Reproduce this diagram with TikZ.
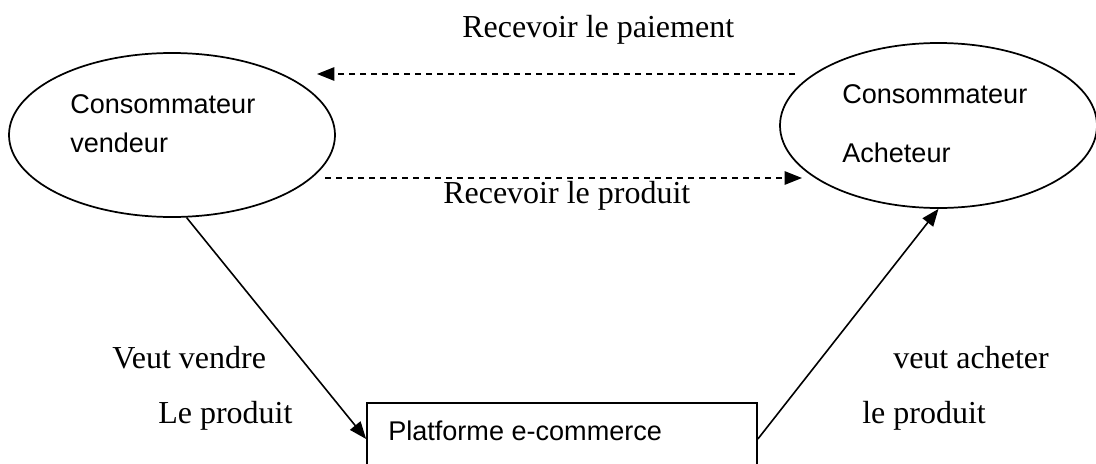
\documentclass[tikz,border=0pt]{standalone}
\usepackage{fontspec}
\setmainfont{Liberation Serif}
\newfontfamily\arialfont{Liberation Sans}
\usetikzlibrary{shapes.geometric, arrows.meta}

\begin{document}
\begin{tikzpicture}[x=0.75pt, y=-0.75pt,
  every node/.style={inner sep=0pt, anchor=base west},
  actor/.style={ellipse, draw, line width=1.3pt, anchor=center},
  platbox/.style={rectangle, draw, line width=1.3pt, anchor=center},
  serif/.style={font=\fontsize{24}{28}\selectfont},
  sans/.style={font=\arialfont\fontsize{20.3}{24}\selectfont},
  flow/.style={-{Triangle[length=13pt,width=10pt]}, line width=1.2pt},
  back/.style={flow, dash pattern=on 4.5pt off 3.75pt}]
\clip (0,0) rectangle (1096,464);

% the two consumers and the platform
\node(vendeur)[actor, minimum width=244.5pt, minimum height=123pt] at (172,135) {};
\node(acheteur)[actor, minimum width=237.75pt, minimum height=123.75pt] at (938.5,125.5) {};
\node(platform)[platbox, minimum width=292.5pt, minimum height=54pt] at (562,439) {};

\node(v1)[sans] at (70,113) {Consommateur};
\node(v2)[sans] at (70,152) {vendeur};
\node(a1)[sans] at (842,103) {Consommateur};
\node(a2)[sans] at (842,162) {Acheteur};
\node(p1)[sans] at (388,440) {Platforme e-commerce};

% dashed exchanges between the consumers
\coordinate (payfrom) at (795,74);
\coordinate (payto) at (317,74);
\coordinate (prodfrom) at (325,178);
\coordinate (prodto) at (802,178);
\draw[back] (payfrom) -- (payto);
\draw[back] (prodfrom) -- (prodto);

\node(paiement)[serif] at (462,37) {Recevoir le paiement};
\node(produit)[serif] at (443,203) {Recevoir le produit};

\draw[flow] (vendeur.-80) -- (platform.west);
\draw[flow] (platform.east) -- (acheteur.south);

\node(vend1)[serif] at (112,368) {Veut vendre};
\node(vend2)[serif] at (158,423) {Le produit};
\node(ach1)[serif] at (893,368) {veut acheter};
\node(ach2)[serif] at (862,423) {le produit};
\end{tikzpicture}
\end{document}
